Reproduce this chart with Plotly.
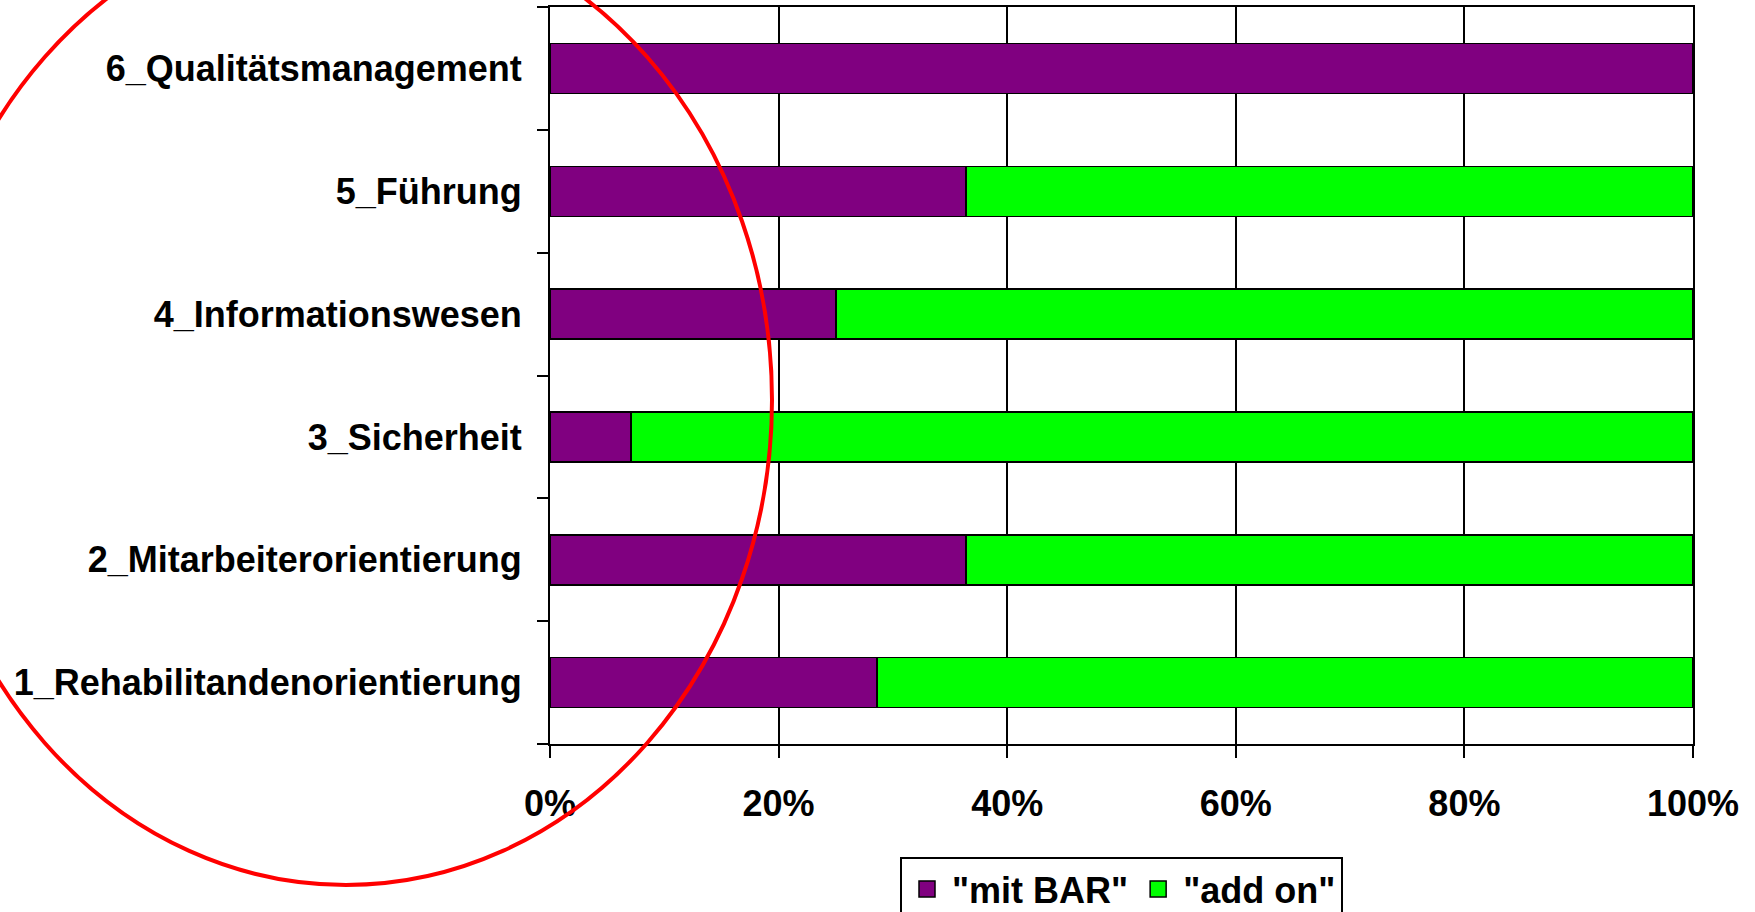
import plotly.graph_objects as go

# Categories, bottom to top
categories = [
    "1_Rehabilitandenorientierung",
    "2_Mitarbeiterorientierung",
    "3_Sicherheit",
    "4_Informationswesen",
    "5_Führung",
    "6_Qualitätsmanagement",
]
# Share (%) of each category
mit_bar = [28.6, 36.4, 7.1, 25.0, 36.4, 100.0]
add_on = [100 - v for v in mit_bar]

series_names = ['"mit BAR"', '"add on"']
series_colors = ["#800080", "#00FF00"]

x_ticks = [0, 20, 40, 60, 80, 100]
x_tick_labels = ["0%", "20%", "40%", "60%", "80%", "100%"]

W, H = 1755, 912
M_L, M_R, M_T, M_B = 550, 62, 7, 168
PW, PH = W - M_L - M_R, H - M_T - M_B

FAMILY = "Liberation Sans, Arial, sans-serif"
FONT = dict(family=FAMILY, size=36, color="black", weight="bold")

fig = go.Figure()
for vals, name, color in zip([mit_bar, add_on], series_names, series_colors):
    fig.add_trace(go.Bar(
        y=categories, x=vals, orientation="h", name=name, showlegend=False,
        marker=dict(color=color, line=dict(color="black", width=1.5)),
    ))

# legend entries with larger square swatches
for name, color in zip(series_names, series_colors):
    fig.add_trace(go.Scatter(
        x=[None], y=[None], mode="markers", name=name,
        marker=dict(symbol="square", size=16, color=color, line=dict(color="black", width=1.5)),
    ))


def px_to_paper_x(px):
    return (px - M_L) / PW


def px_to_paper_y(py):
    return (H - M_B - py) / PH


# red ellipse highlighting the low-share region (pixel-space centre and radii)
cx, cy, rx, ry = 346, 400, 426, 485
fig.add_shape(
    type="circle", xref="paper", yref="paper", layer="above",
    x0=px_to_paper_x(cx - rx), x1=px_to_paper_x(cx + rx),
    y0=px_to_paper_y(cy + ry), y1=px_to_paper_y(cy - ry),
    line=dict(color="#FF0000", width=4),
)

fig.update_layout(
    width=W, height=H,
    margin=dict(l=M_L, r=M_R, t=M_T, b=M_B, pad=0, autoexpand=False),
    barmode="stack", bargap=0.593,
    paper_bgcolor="white", plot_bgcolor="white",
    font=FONT,
    showlegend=True,
    legend=dict(
        orientation="h", x=0.5, xanchor="center", y=px_to_paper_y(857), yanchor="top",
        bordercolor="black", borderwidth=2, bgcolor="white",
        font=dict(family=FAMILY, size=36, color="black", weight="bold"),
        traceorder="normal", itemwidth=40,
    ),
)

fig.update_xaxes(
    range=[0, 100], tickvals=x_ticks, ticktext=x_tick_labels,
    showgrid=True, gridcolor="black", gridwidth=1.5,
    showline=True, linecolor="black", linewidth=2, mirror=True,
    ticks="outside", ticklen=12, tickwidth=2, tickcolor="black",
    ticklabelstandoff=15, zeroline=False, fixedrange=True, automargin=False,
)
fig.update_yaxes(
    categoryorder="array", categoryarray=categories,
    showgrid=False,
    showline=True, linecolor="black", linewidth=2, mirror=True,
    ticks="outside", tickson="boundaries", ticklen=11, tickwidth=2, tickcolor="black",
    ticklabelstandoff=19, fixedrange=True, automargin=False,
)

fig.write_html("out.html")
